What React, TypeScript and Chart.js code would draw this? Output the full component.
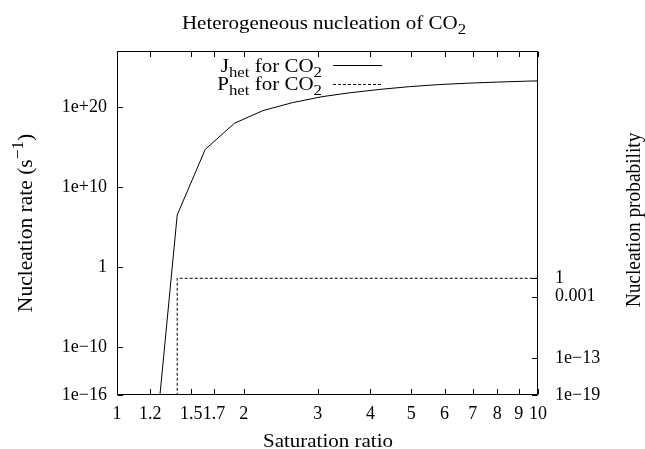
import React, { useEffect, useRef } from "react";
import { Chart, registerables } from "chart.js";

Chart.register(...registerables);

// ---- data ----
const saturationRatio = [1.17, 1.39, 1.62, 1.9, 2.22, 2.61, 3.07, 3.6, 4.22, 4.95, 5.81, 6.82, 8.0, 9.39, 10];
const nucleationRate = [
  2.5e-35, 3.2e6, 5.0e14, 9.1e17, 3.5e19, 3.5e20, 1.95e21, 6.3e21, 1.6e22, 3.5e22, 6.3e22, 9.5e22, 1.3e23,
  1.7e23, 1.85e23,
];
const nucleationProbability = [2.5e-38, 1, 1, 1, 1, 1, 1, 1, 1, 1, 1, 1, 1, 1, 1];

const xTickValues = [1, 1.2, 1.5, 1.7, 2, 3, 4, 5, 6, 7, 8, 9, 10];
const xTickLabels = ["1", "1.2", "1.5", "1.7", "2", "3", "4", "5", "6", "7", "8", "9", "10"];
const yTickValues = [1e-16, 1e-10, 1, 1e10, 1e20];
const yTickLabels = ["1e\u221216", "1e\u221210", "1", "1e+10", "1e+20"];
const y2TickValues = [1e-19, 1e-13, 1e-3, 1];
const y2TickLabels = ["1e\u221219", "1e\u221213", "0.001", "1"];

const FONT = "'Liberation Serif', 'Times New Roman', serif";
const TICK_FONT = { family: FONT, size: 18 };
const SQ = 0.92;

type Seg = { t: string; s?: "sub" | "sup" };

function segWidth(ctx: CanvasRenderingContext2D, segs: Seg[], size: number) {
  let w = 0;
  for (const seg of segs) {
    const fs = seg.s ? size * 0.8 : size;
    ctx.font = `${fs}px ${FONT}`;
    w += ctx.measureText(seg.t).width;
  }
  return w;
}

function drawRich(
  ctx: CanvasRenderingContext2D,
  segs: Seg[],
  x: number,
  y: number,
  size: number,
  align: "left" | "center" | "right",
  rotated: boolean,
  squash: number
) {
  ctx.save();
  ctx.translate(x, y);
  if (rotated) {
    ctx.rotate(-Math.PI / 2);
    ctx.scale(squash, 1);
  } else {
    ctx.scale(1, squash);
  }
  ctx.fillStyle = "#000";
  ctx.textBaseline = "alphabetic";
  ctx.textAlign = "left";
  const w = segWidth(ctx, segs, size);
  let cx = align === "center" ? -w / 2 : align === "right" ? -w : 0;
  for (const seg of segs) {
    const fs = seg.s ? size * 0.8 : size;
    ctx.font = `${fs}px ${FONT}`;
    const dy = seg.s === "sub" ? size * 0.27 : seg.s === "sup" ? -size * 0.42 : 0;
    ctx.fillText(seg.t, cx, dy);
    cx += ctx.measureText(seg.t).width;
  }
  ctx.restore();
}

const decorPlugin = {
  id: "decor",
  afterDraw(chart: any) {
    const ctx: CanvasRenderingContext2D = chart.ctx;
    const { left, right, top, bottom } = chart.chartArea;
    const L = Math.round(left) + 0.5;
    const R = Math.round(right) - 0.5;
    const T = Math.round(top) + 0.5;
    const B = Math.round(bottom) - 0.5;
    ctx.save();
    ctx.strokeStyle = "#000";
    ctx.lineWidth = 1;
    ctx.setLineDash([]);
    ctx.beginPath();
    ctx.rect(L, T, R - L, B - T);
    ctx.stroke();

    const tl = 5.5;
    ctx.beginPath();
    const xs = chart.scales.x;
    for (const t of xs.ticks) {
      const px = Math.round(xs.getPixelForValue(t.value)) + 0.5;
      ctx.moveTo(px, B);
      ctx.lineTo(px, B - tl);
      ctx.moveTo(px, T);
      ctx.lineTo(px, T + tl);
    }
    const ys = chart.scales.y;
    for (const t of ys.ticks) {
      const py = Math.round(ys.getPixelForValue(t.value)) + 0.5;
      ctx.moveTo(L, py);
      ctx.lineTo(L + tl, py);
    }
    const y2 = chart.scales.y2;
    for (const t of y2.ticks) {
      const py = Math.round(y2.getPixelForValue(t.value)) + 0.5;
      ctx.moveTo(R, py);
      ctx.lineTo(R - tl, py);
    }
    ctx.stroke();

    // legend samples
    ctx.beginPath();
    ctx.moveTo(333, 65.5);
    ctx.lineTo(382, 65.5);
    ctx.stroke();
    ctx.setLineDash([3, 2]);
    ctx.beginPath();
    ctx.moveTo(333, 84.5);
    ctx.lineTo(382, 84.5);
    ctx.stroke();
    ctx.restore();

    // texts
    drawRich(ctx, [{ t: "Heterogeneous nucleation of CO" }, { t: "2", s: "sub" }], 324, 28.5, 21, "center", false, SQ);
    drawRich(ctx, [{ t: "Saturation ratio" }], 328, 446.5, 21, "center", false, SQ);
    drawRich(
      ctx,
      [{ t: "J" }, { t: "het", s: "sub" }, { t: " for CO" }, { t: "2", s: "sub" }],
      322,
      71.5,
      21,
      "right",
      false,
      SQ
    );
    drawRich(
      ctx,
      [{ t: "P" }, { t: "het", s: "sub" }, { t: " for CO" }, { t: "2", s: "sub" }],
      322,
      89.5,
      21,
      "right",
      false,
      SQ
    );
    drawRich(
      ctx,
      [{ t: "Nucleation rate (s" }, { t: "\u22121", s: "sup" }, { t: ")" }],
      32,
      223,
      21.5,
      "center",
      true,
      1
    );
    drawRich(ctx, [{ t: "Nucleation probability" }], 640, 220, 21.5, "center", true, 0.9);
  },
};

export default function App() {
  const ref = useRef<HTMLCanvasElement>(null);
  useEffect(() => {
    const canvas = ref.current;
    if (!canvas) return;
    const chart = new Chart(canvas, {
      type: "line",
      data: {
        datasets: [
          {
            label: "J_het for CO2",
            data: saturationRatio.map((s, i) => ({ x: s, y: nucleationRate[i] })),
            yAxisID: "y",
            borderColor: "#000",
            borderWidth: 1,
            pointRadius: 0,
            fill: false,
            tension: 0,
          },
          {
            label: "P_het for CO2",
            data: saturationRatio.map((s, i) => ({ x: s, y: nucleationProbability[i] })),
            yAxisID: "y2",
            borderColor: "#000",
            borderWidth: 1,
            borderDash: [3, 2],
            pointRadius: 0,
            fill: false,
            stepped: "before",
          },
        ],
      },
      options: {
        responsive: false,
        animation: false,
        layout: { padding: { top: 51, left: 0, right: 0, bottom: 0 } },
        plugins: {
          legend: { display: false },
          title: { display: false },
          tooltip: { enabled: false },
        },
        scales: {
          x: {
            type: "logarithmic",
            position: "bottom",
            min: 1,
            max: 10,
            grid: { display: false, drawTicks: false },
            border: { display: false },
            ticks: {
              autoSkip: false,
              maxRotation: 0,
              minRotation: 0,
              padding: 8,
              color: "#000",
              font: TICK_FONT,
              callback: (_v: any, i: number) => xTickLabels[i],
            },
            afterBuildTicks: (s: any) => {
              s.ticks = xTickValues.map((v) => ({ value: v }));
            },
            afterFit: (s: any) => {
              s.height = 54;
            },
          },
          y: {
            type: "logarithmic",
            position: "left",
            min: 1e-16,
            max: 1e27,
            grid: { display: false, drawTicks: false },
            border: { display: false },
            ticks: {
              autoSkip: false,
              padding: 10,
              color: "#000",
              font: TICK_FONT,
              callback: (_v: any, i: number) => yTickLabels[i],
            },
            afterBuildTicks: (s: any) => {
              s.ticks = yTickValues.map((v) => ({ value: v }));
            },
            afterFit: (s: any) => {
              s.width = 117;
            },
          },
          y2: {
            type: "logarithmic",
            position: "right",
            min: 1e-19,
            max: 1e37,
            grid: { display: false, drawTicks: false },
            border: { display: false },
            ticks: {
              autoSkip: false,
              padding: 17,
              color: "#000",
              font: TICK_FONT,
              callback: (_v: any, i: number) => y2TickLabels[i],
            },
            afterBuildTicks: (s: any) => {
              s.ticks = y2TickValues.map((v) => ({ value: v }));
            },
            afterFit: (s: any) => {
              s.width = 107;
            },
          },
        },
      } as any,
      plugins: [decorPlugin],
    });
    return () => chart.destroy();
  }, []);

  return (
    <div style={{ position: "absolute", left: 0, top: 0, width: 645, height: 449, background: "#fff" }}>
      <canvas ref={ref} width={645} height={449} style={{ display: "block", width: 645, height: 449 }} />
    </div>
  );
}
